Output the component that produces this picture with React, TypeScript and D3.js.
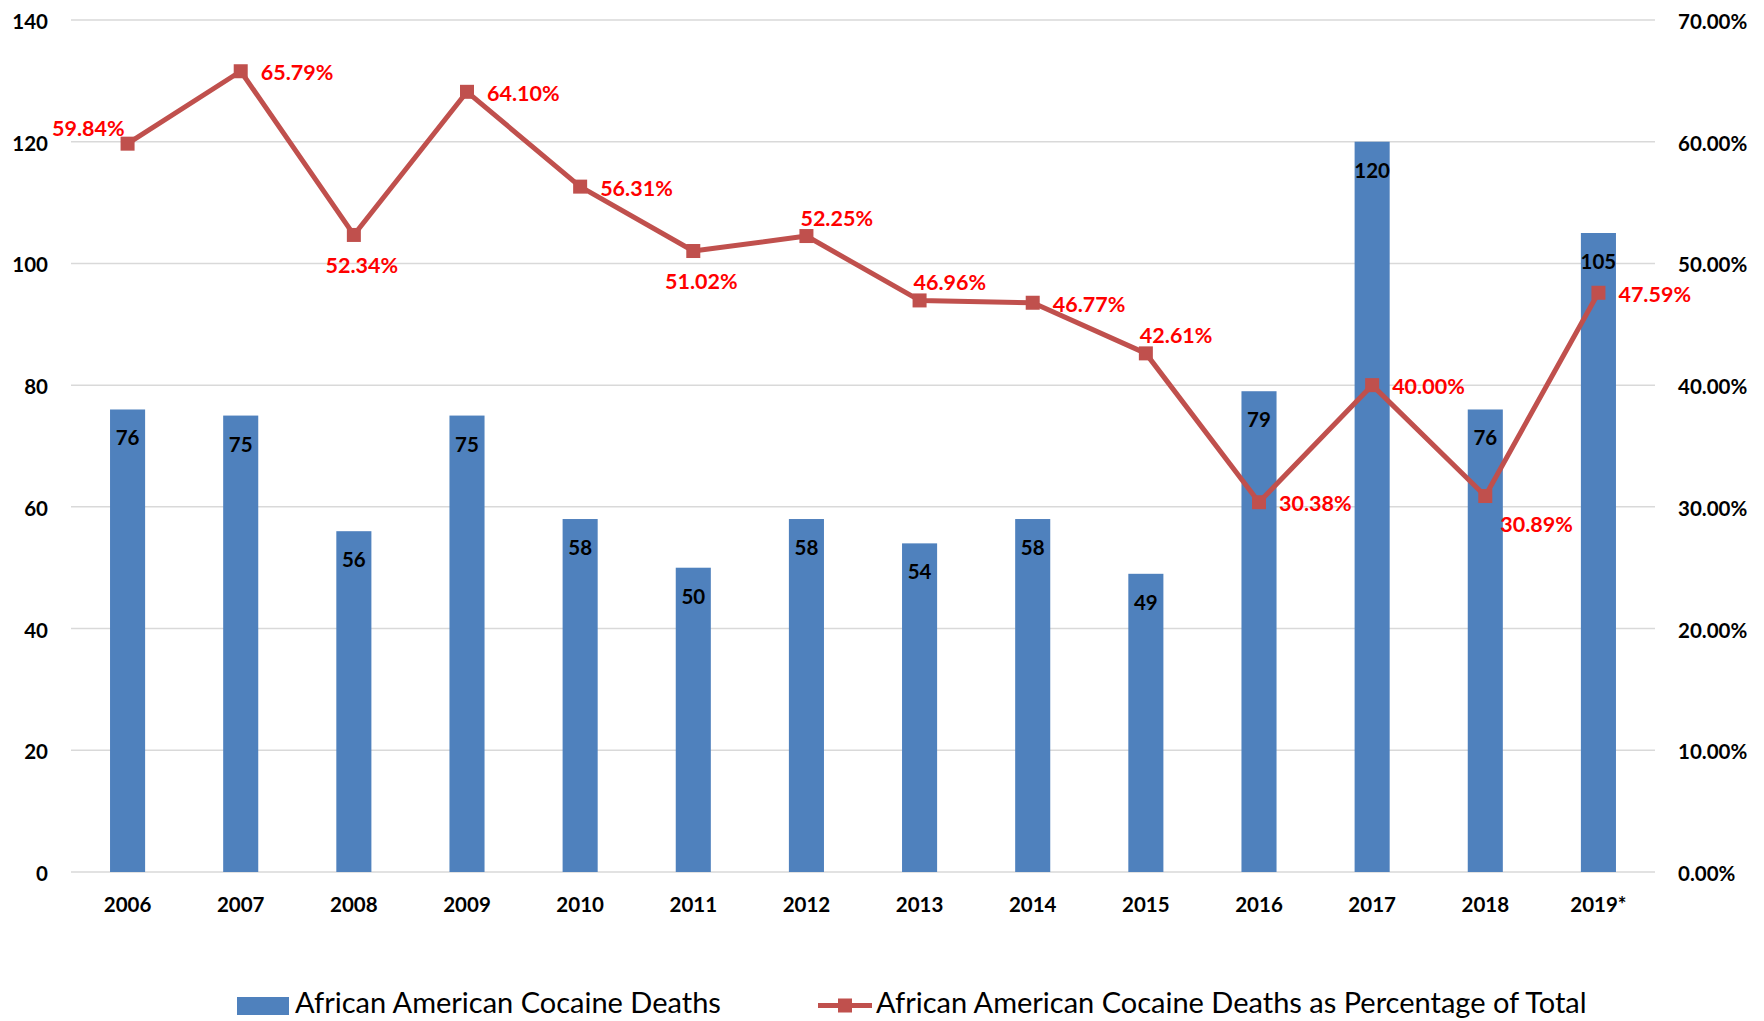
import React from 'react';
import * as d3 from 'd3';

const years = ['2006', '2007', '2008', '2009', '2010', '2011', '2012', '2013', '2014', '2015', '2016', '2017', '2018', '2019*'];
const deaths = [76, 75, 56, 75, 58, 50, 58, 54, 58, 49, 79, 120, 76, 105];
const pctOfTotal = [59.84, 65.79, 52.34, 64.1, 56.31, 51.02, 52.25, 46.96, 46.77, 42.61, 30.38, 40.0, 30.89, 47.59];
const pctLabelPlacement = ['upper-left', 'right', 'below', 'right', 'right', 'below', 'upper-right', 'upper-right', 'right', 'upper-right', 'right', 'right', 'lower-right', 'right'];
const leftTicks = [0, 20, 40, 60, 80, 100, 120, 140];
const rightTicks = [0, 10, 20, 30, 40, 50, 60, 70];
const barSeriesName = 'African American Cocaine Deaths';
const lineSeriesName = 'African American Cocaine Deaths as Percentage of Total';

const W = 1764;
const H = 1021;
const FONT = 'Lato, "Open Sans", sans-serif';
const BAR = '#4F81BD';
const LINE = '#C0504D';
const GRID = '#D9D9D9';

const placements: Record<string, { anchor: string; dx: number; dy: number }> = {
  'upper-left': { anchor: 'end', dx: -3, dy: -16 },
  right: { anchor: 'start', dx: 20, dy: 1 },
  below: { anchor: 'middle', dx: 8, dy: 30 },
  'upper-right': { anchor: 'start', dx: -6, dy: -18 },
  'lower-right': { anchor: 'start', dx: 15, dy: 28 },
};

export default function App() {
  const plotLeft = 71;
  const plotRight = 1655;
  const plotTop = 20;
  const plotBottom = 872;

  const x = d3.scaleBand<string>().domain(years).range([plotLeft, plotRight]).paddingInner(0.69).paddingOuter(0.345);
  const y = d3.scaleLinear().domain([0, 140]).range([plotBottom, plotTop]);
  const y2 = d3.scaleLinear().domain([0, 70]).range([plotBottom, plotTop]);
  const cx = (d: string) => (x(d) as number) + x.bandwidth() / 2;

  const line = d3
    .line<number>()
    .x((_, i) => cx(years[i]))
    .y((d) => y2(d));

  const ms = 14;
  const legendY = 1005.5;

  return (
    <svg width={W} height={H} style={{ position: 'absolute', left: 0, top: 0, background: '#fff' }} fontFamily={FONT}>
      <rect x={0} y={0} width={W} height={H} fill="#fff" />
      {leftTicks.map((t) => (
        <g key={'g' + t}>
          <line x1={plotLeft} x2={plotRight} y1={y(t)} y2={y(t)} stroke={GRID} strokeWidth={1.5} />
          <text x={48} y={y(t) + 1} textAnchor="end" dominantBaseline="central" fontSize={20.5} fontWeight="bold" fill="#000">
            {t}
          </text>
        </g>
      ))}
      {rightTicks.map((t) => (
        <text key={'r' + t} x={1678} y={y2(t) + 1} textAnchor="start" dominantBaseline="central" fontSize={20.5} fontWeight="bold" fill="#000">
          {t.toFixed(2)}%
        </text>
      ))}
      {years.map((yr, i) => (
        <g key={'b' + yr}>
          <rect x={x(yr)} y={y(deaths[i])} width={x.bandwidth()} height={plotBottom - y(deaths[i])} fill={BAR} />
          <text x={cx(yr)} y={y(deaths[i]) + 28} textAnchor="middle" dominantBaseline="central" fontSize={20.5} fontWeight="bold" fill="#000">
            {deaths[i]}
          </text>
          <text x={cx(yr)} y={904} textAnchor="middle" dominantBaseline="central" fontSize={20.5} fontWeight="bold" fill="#000">
            {yr}
          </text>
        </g>
      ))}
      <path d={line(pctOfTotal) || ''} fill="none" stroke={LINE} strokeWidth={5} strokeLinejoin="round" />
      {pctOfTotal.map((p, i) => (
        <rect key={'m' + i} x={cx(years[i]) - ms / 2} y={y2(p) - ms / 2} width={ms} height={ms} fill={LINE} />
      ))}
      {pctOfTotal.map((p, i) => {
        const pl = placements[pctLabelPlacement[i]];
        return (
          <text
            key={'pl' + i}
            x={cx(years[i]) + pl.dx}
            y={y2(p) + pl.dy}
            textAnchor={pl.anchor}
            dominantBaseline="central"
            fontSize={21.5}
            fontWeight="bold"
            fill="#FF0000"
          >
            {p.toFixed(2)}%
          </text>
        );
      })}
      <g>
        <rect x={237} y={997} width={52} height={18} fill={BAR} />
        <text x={295} y={1013} fontSize={29} fill="#000">
          {barSeriesName}
        </text>
        <line x1={818} x2={872} y1={legendY} y2={legendY} stroke={LINE} strokeWidth={5} />
        <rect x={845 - ms / 2} y={legendY - ms / 2} width={ms} height={ms} fill={LINE} />
        <text x={876} y={1013} fontSize={29} fill="#000">
          {lineSeriesName}
        </text>
      </g>
    </svg>
  );
}
